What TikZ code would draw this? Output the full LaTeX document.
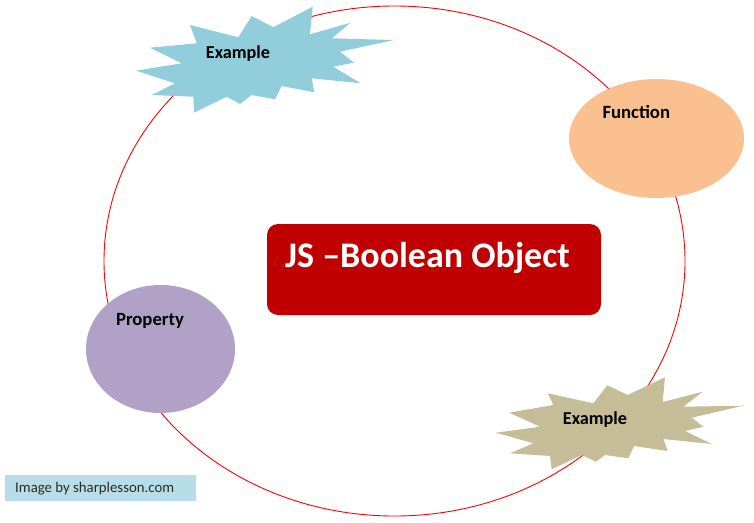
\documentclass[tikz,border=0pt]{standalone}
\usepackage{fontspec}
\setmainfont{Carlito}
\usetikzlibrary{shapes.geometric}
\definecolor{ringred}{HTML}{FF0000}
\definecolor{starblue}{HTML}{92CDDC}
\definecolor{startan}{HTML}{C4BD97}
\definecolor{funcorange}{HTML}{FAC090}
\definecolor{propviolet}{HTML}{B2A1C7}
\definecolor{boxred}{HTML}{C00000}
\definecolor{creditblue}{HTML}{B7DDE8}
\definecolor{credittext}{HTML}{2B2B1E}
\tikzset{
  ringstyle/.style={draw=ringred, line width=0.9pt, ellipse, inner sep=0pt, outer sep=0pt},
  blobstyle/.style={ellipse, inner sep=0pt, outer sep=0pt},
  lbl/.style={font=\bfseries\fontsize{18.7}{21}\selectfont, text=black, inner sep=0pt, anchor=base},
  exlbl/.style={lbl, font=\bfseries\fontsize{18.2}{21}\selectfont},
  titlestyle/.style={font=\bfseries\fontsize{36}{40}\selectfont, text=white, inner sep=0pt, anchor=base},
}
\begin{document}
\begin{tikzpicture}[x=1pt,y=-1pt]
\useasboundingbox (0,0) rectangle (754,522);
% ring
\node[ringstyle, minimum width=581pt, minimum height=510pt] (ring) at (394.5,261) {};
% function ellipse
\node[blobstyle, fill=funcorange, minimum width=175pt, minimum height=119pt] (func) at (656.5,138.5) {};
% property ellipse
\node[blobstyle, fill=propviolet, minimum width=149pt, minimum height=128pt] (prop) at (160.5,349) {};
% title box
\fill[boxred, rounded corners=11pt] (267,224) rectangle (601,315);
\coordinate (titlepos) at (427.5,267);
% starburst 1
\fill[starblue] (136,70.7) -- (181.7,63.3) -- (150,47.7) -- (196.7,43.3) -- (190,25) -- (238.3,37.3)
  -- (251.7,16) -- (273.3,27.3) -- (312.7,6.7) -- (310,34.3) -- (350.7,22.7) -- (331.7,38.3)
  -- (394,40) -- (340,51.7) -- (354,62.7) -- (333.3,66.7) -- (360.7,83.3) -- (311.7,78.3)
  -- (314.3,92.3) -- (281.7,86) -- (275,99.3) -- (251.7,95) -- (240,104) -- (226.7,96.7)
  -- (194,112.7) -- (193.3,96.7) -- (151.7,95) -- (175,83.3) -- cycle;
% starburst 2
\fill[startan] (496,432.7) -- (540,426.7) -- (509.3,412.7) -- (553.3,405) -- (547.7,393.3) -- (593.3,403.3)
  -- (607.3,385.3) -- (627.7,395) -- (665,377.3) -- (662.7,402) -- (702.7,391.7) -- (683.3,406.7)
  -- (743.3,405.7) -- (691.7,417.7) -- (703.3,426.7) -- (685,431) -- (711.7,444) -- (663.3,439)
  -- (667.7,451) -- (634,446) -- (628.3,458.3) -- (605,455) -- (596,461.7) -- (581.7,455)
  -- (551.7,469.3) -- (550,456) -- (510,453.3) -- (533.3,443.3) -- cycle;
% labels
\node[titlestyle] (title) at (titlepos) {JS –Boolean Object};
\node[lbl] (functxt) at (636.3,118.3) {Function};
\node[lbl] (proptxt) at (150,325) {Property};
\node[exlbl] (ex1) at (238,58.3) {Example};
\node[exlbl] (ex2) at (595,424) {Example};
% credit
\fill[creditblue] (5,475) rectangle (196,500.7);
\node[font=\fontsize{14.8}{17}\selectfont, text=credittext, inner sep=0pt, anchor=base west] (credit) at (15,492.7) {Image by sharplesson.com};
\end{tikzpicture}
\end{document}
